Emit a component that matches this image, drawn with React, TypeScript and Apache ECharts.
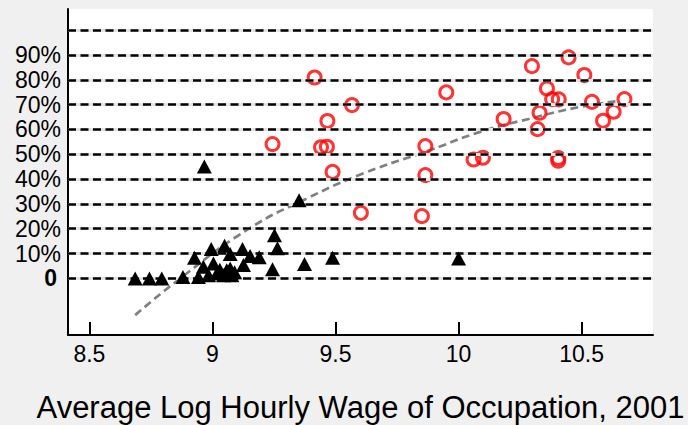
import React, { useEffect, useRef } from "react";
import * as echarts from "echarts";

const xTicks = [8.5, 9, 9.5, 10, 10.5];
const yLabelTicks = [0, 10, 20, 30, 40, 50, 60, 70, 80, 90];
const gridValues = [0, 10, 20, 30, 40, 50, 60, 70, 80, 90, 100];
const xTitle = "Average Log Hourly Wage of Occupation, 2001";

// black triangles: [log wage, share %]
const triX = [8.686, 8.744, 8.794, 8.88, 8.927, 8.943, 8.963, 8.967, 8.984, 8.995, 9.004, 9.018, 9.03, 9.045, 9.049, 9.058, 9.072, 9.072, 9.079, 9.09, 9.122, 9.126, 9.153, 9.19, 9.244, 9.252, 9.264, 9.352, 9.374, 9.488, 10.0];
const triY = [0, 0, 0, 0.6, 8.3, 0.6, 4.7, 45.1, 1.3, 11.8, 6.0, 2.0, 3.5, 1.3, 13.1, 3.3, 9.8, 4.0, 1.3, 2.5, 11.8, 5.4, 9.0, 8.5, 3.7, 17.4, 12.1, 31.5, 5.8, 8.3, 8.0];

// red circles
const cirX = [9.244, 9.415, 9.441, 9.465, 9.467, 9.488, 9.567, 9.603, 9.851, 9.865, 9.865, 9.95, 10.061, 10.099, 10.183, 10.298, 10.321, 10.329, 10.359, 10.38, 10.405, 10.405, 10.407, 10.447, 10.511, 10.542, 10.587, 10.63, 10.674];
const cirY = [54.1, 80.9, 52.8, 53.0, 63.4, 42.9, 69.8, 26.4, 25.1, 53.3, 41.6, 74.9, 47.9, 48.6, 64.2, 85.5, 60.1, 66.7, 76.5, 72.2, 48.5, 47.4, 72.1, 89.0, 81.9, 71.1, 63.5, 67.1, 72.2];

// fitted curve
const fitX = [8.686, 8.869, 9.14, 9.384, 9.614, 9.885, 10.088, 10.292, 10.495, 10.65];
const fitY = [-14.8, 0, 19.5, 32.2, 42.3, 51.7, 59.0, 64.4, 69.1, 71.4];

const FONT = "Liberation Sans, Arial, sans-serif";

export default function App() {
  const ref = useRef<HTMLDivElement>(null);
  useEffect(() => {
    if (!ref.current) return;
    const chart = echarts.init(ref.current, null, { renderer: "svg" });
    const zip = (a: number[], b: number[]) => a.map((v, i) => [v, b[i]]);
    chart.setOption({
      animation: false,
      backgroundColor: "#f0f0f0",
      grid: {
        left: 68, right: 35, top: 9, bottom: 90,
        show: true, backgroundColor: "#ffffff", borderWidth: 0,
        containLabel: false, outerBoundsMode: "none",
      },
      xAxis: {
        type: "value",
        min: 8.413,
        max: 10.79,
        axisLine: { show: true, onZero: false, lineStyle: { color: "#000", width: 2 } },
        axisTick: { show: true, inside: true, length: 13, customValues: xTicks, lineStyle: { color: "#000", width: 2 } },
        axisLabel: { customValues: xTicks, fontSize: 23, color: "#000", fontFamily: FONT, margin: 7, formatter: (v: number) => String(v) },
        splitLine: { show: false },
        name: xTitle,
        nameLocation: "middle",
        nameGap: 57,
        nameTextStyle: { fontSize: 31, color: "#000", fontFamily: FONT },
      },
      yAxis: {
        type: "value",
        min: -22.8,
        max: 108.5,
        axisLine: { show: true, onZero: false, lineStyle: { color: "#000", width: 2 } },
        axisTick: { show: true, inside: true, length: 14, customValues: [0], lineStyle: { color: "#000", width: 3 } },
        axisLabel: {
          customValues: yLabelTicks,
          fontSize: 23,
          color: "#000",
          fontFamily: FONT,
          margin: 7,
          formatter: (v: number) => (v === 0 ? "{z|0}" : v + "%"),
          rich: { z: { fontSize: 23, fontWeight: "bold", color: "#000", fontFamily: FONT, padding: [0, 4, 0, 0] } },
        },
        splitLine: { show: false },
      },
      series: [
        {
          type: "line",
          data: [],
          z: 1,
          markLine: {
            silent: true,
            symbol: "none",
            label: { show: false },
            lineStyle: { color: "#e4e4e4", type: "solid", width: 3 },
            data: gridValues.map((v) => ({ yAxis: v })),
          },
        },
        {
          type: "line",
          data: [],
          z: 2,
          markLine: {
            silent: true,
            symbol: "none",
            label: { show: false },
            lineStyle: { color: "#000", type: [8, 4.5], width: 2.7 },
            data: gridValues.map((v) => ({ yAxis: v })),
          },
        },
        {
          type: "line",
          data: zip(fitX, fitY),
          smooth: true,
          showSymbol: false,
          z: 3,
          lineStyle: { color: "#808080", type: [8, 4.5], width: 2.7 },
        },
        {
          type: "scatter",
          data: zip(cirX, cirY),
          symbol: "circle",
          symbolSize: 13,
          z: 4,
          itemStyle: { color: "rgba(0,0,0,0)", borderColor: "#ff0000", borderWidth: 3 },
        },
        {
          type: "scatter",
          data: zip(triX, triY),
          symbol: "triangle",
          symbolSize: [15, 14],
          z: 5,
          itemStyle: { color: "#000", opacity: 1 },
        },
      ],
    });
    return () => chart.dispose();
  }, []);
  return <div ref={ref} style={{ position: "absolute", left: 0, top: 0, width: 688, height: 425 }} />;
}
